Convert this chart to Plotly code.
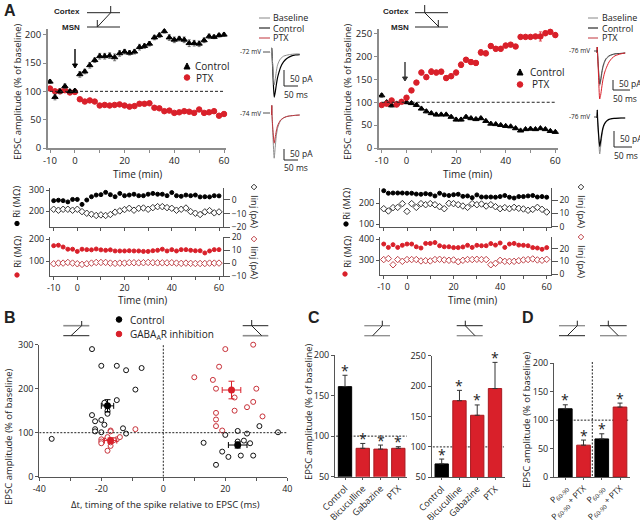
import numpy as np
import plotly.graph_objects as go

W, H = 640, 520
FONT = "Open Sans"
INK = "#222222"
GREY = "#8c8c8c"
RED = "#d9202a"
DRED = "#a81a20"

# ---------- data ----------
time_min = [-10,-8,-6,-4,-2,0,2,4,6,8,10,12,14,16,18,20,22,24,26,28,30,32,34,36,38,40,42,44,46,48,50,52,54,56,58,60]

a1_control = [117,90,100,109,100,101,130,135,146,155,162,162,163,160,167,170,168,170,178,180,184,195,199,206,195,191,193,191,185,185,184,190,197,196,199,200]
a1_control_err = [3,5,4,4,3,3,5,4,5,4,5,5,5,6,5,4,4,4,5,4,4,4,4,3,5,5,4,5,6,5,5,4,4,3,3,3]
a1_ptx = [105,100,100,102,98,99,86,82,84,82,75,76,75,76,77,75,73,74,78,78,79,71,70,65,66,62,63,65,64,62,68,62,63,65,57,60]
a1_ptx_err = [3,3,3,3,3,3,3,3,3,3,3,3,3,2,2,3,3,3,2,2,2,3,3,2,2,2,2,2,2,2,2,2,2,2,2,2]

a2_control = [115,100,93,97,101,100,98,94,86,80,76,73,73,73,68,62,62,68,65,63,65,59,53,52,50,48,47,43,38,41,42,41,43,41,37,35]
a2_control_err = [4,3,3,3,3,3,3,3,3,3,3,3,2,2,2,3,3,3,3,3,3,2,2,2,2,2,2,2,2,2,2,2,2,2,2,2]
a2_ptx = [94,97,104,95,101,110,126,143,165,155,167,165,167,153,157,165,182,193,188,186,209,207,223,217,217,224,226,222,243,243,243,244,244,251,254,247]
a2_ptx_err = [3,3,3,3,3,4,4,4,5,5,6,5,5,5,5,5,6,5,5,5,6,5,5,5,5,5,4,4,4,4,4,4,10,5,5,5]

a1_ri_black = [250,252,250,244,256,256,232,253,269,277,279,290,279,269,285,274,277,281,274,274,281,285,281,281,274,289,274,271,277,274,277,268,269,268,274,273]
a1_inj_black = [-6.9,-7.6,-6.9,-6.9,-7.6,-6.9,-8.6,-9.8,-10.5,-11.4,-11,-11.4,-10.7,-9,-8.1,-7.1,-6.2,-7.6,-6.2,-6,-6.9,-5.7,-5,-5,-5.7,-6.2,-7.6,-6.9,-6,-8.6,-9.8,-10.7,-8.8,-7.9,-9.5,-8.8]
a1_ri_red = [171,173,165,155,155,145,155,153,152,156,152,150,152,147,147,147,148,147,147,145,145,148,150,155,147,153,147,153,153,150,148,148,138,147,153,153]
a1_inj_red = [-0.5,0,0,0.5,0,-0.5,-1,-0.5,0,0.5,0.5,0.5,0,-0.2,0,0,0.3,0.3,0.2,0.3,0.5,0.3,0.2,0.2,0.2,0.3,0,-0.2,0,-0.2,-0.3,-0.3,-0.3,0,0,0]

a2_ri_black = [260,248,249,249,249,248,248,244,243,246,243,235,248,240,237,241,243,233,235,227,240,230,230,230,229,232,237,229,225,232,232,235,237,230,232,229]
a2_inj_black = [13.5,11.8,14.3,14.5,17.3,11.5,17.3,14.5,17.3,16.5,17.3,16.5,15,13.5,17.5,17.3,16.5,15.5,14.5,17.3,16.5,17,15.5,16.5,15,13.5,14.3,13.5,14.5,13.8,13.3,12.3,13,14.5,13,11]
a2_ri_red = [376,360,373,360,370,376,376,363,357,379,379,383,368,363,363,359,359,362,370,360,370,368,368,378,371,381,360,376,379,371,370,368,359,357,351,359]
a2_inj_red = [11.4,12.2,7.3,11.4,10,11.4,11.4,11.4,10.3,10.5,10.3,11.4,11.6,11.1,10.8,11.1,9.7,10.8,11.4,11.4,11.6,11.4,11.4,7.3,8.4,10.8,10,10,10,10.5,11.1,11.4,11.9,11.1,10.8,11.6]

# EPSC sample traces (ms, pA)
epsc_t = [0,1,2,5,9,12,16,20,25,30,40,50,60,80,94]
i1_baseline = [0,15,-5,-55,-100,-85,-58,-38,-26,-18,-10,-7,-5,-3,-3]
i1_control = [0,15,-5,-70,-138,-125,-100,-78,-60,-45,-28,-18,-12,-6,-5]
i2_baseline = [0,30,-5,-70,-135,-105,-65,-42,-28,-18,-9,-5,-3,-1,0]
i2_ptx = [0,30,-5,-50,-88,-72,-50,-34,-24,-16,-9,-5,-3,-1,0]
i3_baseline = [0,30,-5,-85,-162,-145,-105,-72,-48,-32,-16,-9,-5,-2,0]
i3_control = [0,30,-5,-80,-155,-135,-95,-65,-42,-28,-14,-8,-4,-2,0]
i3_ptx = [0,30,-5,-110,-230,-212,-170,-132,-100,-78,-45,-26,-14,-4,0]
i4_baseline = [0,40,-5,-90,-180,-145,-92,-56,-33,-20,-8,-3,-2,0,0]
i4_control = [0,40,-5,-75,-143,-118,-78,-48,-29,-18,-7,-3,-2,0,0]

b_ctrl_x = [-36,-23,-20,-15,-12,-7,-9,-15,-19,-18,-18,-23,-22,-20,-19,-13,-22,-22,-20,-12,13,20,24,27,31,37,24,26,28,19,21,25,29,17]
b_ctrl_y = [86,290,252,252,242,247,198,174,168,150,143,140,126,129,118,110,108,103,101,98,77,95,104,98,115,101,80,82,76,57,45,48,48,27]
b_gaba_x = [-9,-17,-17,-20,-20,-20,-18,-15,-14,-17,-18,-17,-16,10,20,29,18,16,17,30,23,29,27,23,17,32,17,17,19]
b_gaba_y = [108,105,103,85,80,76,90,85,90,70,59,78,83,226,290,300,250,220,200,200,180,170,158,150,145,137,130,115,105]
b_mean_ctrl_x = [-18,24]
b_mean_ctrl_y = [161,72]
b_mean_ctrl_ex = [2,3]
b_mean_ctrl_ey = [14,7]
b_mean_gaba_x = [-17,22]
b_mean_gaba_y = [82,197]
b_mean_gaba_ex = [2,3]
b_mean_gaba_ey = [6,20]

c_labels = ["Control","Bicuculline","Gabazine","PTX"]
c1_vals = [161,85,84,85]
c1_err = [14,6,5,2]
c2_vals = [72,176,152,196]
c2_err = [8,17,17,43]
d_labels = ["P<sub>60-90</sub>","P<sub>60-90</sub> + PTX","P<sub>60-90</sub>","P<sub>60-90</sub> + PTX"]
d_vals = [120,56,67,123]
d_err = [7,9,9,7]

# ---------- helpers ----------
fig = go.Figure()
layout = {}
shapes = []
annots = []
_n = [0]

def rng(cal, p0, p1):
    (pa, va), (pb, vb) = cal
    f = lambda p: va + (p - pa) * (vb - va) / (pb - pa)
    return [f(p0), f(p1)]

TICKF = dict(family=FONT, size=9, color=INK)

def add_axes(box, xcal, ycal, xopts=None, yopts=None):
    L, R, T, B = box
    _n[0] += 1
    n = _n[0]
    base = dict(showgrid=False, zeroline=False, showline=True, linecolor="#555555", linewidth=1,
                ticks="outside", ticklen=3, tickwidth=1, tickcolor="#555555", tickfont=TICKF)
    xa = dict(base, domain=[L/W, R/W], range=rng(xcal, L, R), anchor=f"y{n}")
    xa.update(xopts or {})
    ya = dict(base, domain=[1-B/H, 1-T/H], range=rng(ycal, B, T), anchor=f"x{n}")
    ya.update(yopts or {})
    layout[f"xaxis{n}"] = xa
    layout[f"yaxis{n}"] = ya
    return n

def add_right(n, ycal, yopts=None):
    _n[0] += 1
    m = _n[0]
    d = layout[f"yaxis{n}"]["domain"]
    T, B = (1-d[1])*H, (1-d[0])*H
    ya = dict(showgrid=False, zeroline=False, showline=True, linecolor="#555555", linewidth=1,
              ticks="outside", ticklen=6, tickwidth=1, tickcolor="#555555", tickfont=dict(TICKF, size=8.5),
              domain=d, range=rng(ycal, B, T), anchor=f"x{n}", overlaying=f"y{n}", side="right")
    ya.update(yopts or {})
    layout[f"yaxis{m}"] = ya
    return m

def hidden(box, xcal, ycal):
    o = dict(visible=False)
    return add_axes(box, xcal, ycal, o, o)

def px(x): return x / W
def py(y): return 1 - y / H

def line(x0, y0, x1, y1, color=INK, w=1, dash=None):
    shapes.append(dict(type="line", xref="paper", yref="paper", x0=px(x0), y0=py(y0), x1=px(x1), y1=py(y1),
                       line=dict(color=color, width=w, dash=dash)))

def dot(cx, cy, r, fill, edge=None):
    shapes.append(dict(type="circle", xref="paper", yref="paper", x0=px(cx-r), x1=px(cx+r), y0=py(cy+r), y1=py(cy-r),
                       fillcolor=fill, line=dict(color=edge or fill, width=1)))

def poly(pts, fill, edge, w=1):
    p = "M " + " L ".join(f"{px(a):.5f},{py(b):.5f}" for a, b in pts) + " Z"
    shapes.append(dict(type="path", xref="paper", yref="paper", path=p, fillcolor=fill, line=dict(color=edge, width=w)))

def tri(cx, cy, r):
    poly([(cx-r, cy+r), (cx+r, cy+r), (cx, cy-r)], "black", "black")

def diamond(cx, cy, r, edge):
    poly([(cx-r, cy), (cx, cy-r), (cx+r, cy), (cx, cy+r)], "white", edge)

def txt(x, y, s, size=10, angle=0, anchor="center", bold=False, family=FONT, color=INK):
    annots.append(dict(xref="paper", yref="paper", x=px(x), y=py(y), text=f"<b>{s}</b>" if bold else s,
                       showarrow=False, xanchor=anchor, yanchor="middle", textangle=angle,
                       font=dict(family=family, size=size, color=color)))

def arrow(x, y0, y1, color="black"):
    line(x, y0, x, y1 - 3, color, 1.4)
    poly([(x-2.5, y1-4), (x+2.5, y1-4), (x, y1)], color, color)

def schem(x0, x1, yt, yb, xv, xe, vtop, topc=INK, botc=INK, topw=1, botw=1, vbot=None):
    line(x0, yt, x1, yt, topc, topw)
    line(x0, yb, x1, yb, botc, botw)
    line(xv, vtop, xv, yt, INK, 1)
    line(xv, yt, xe, yb, INK, 1)
    if vbot is not None:
        line(xe, vbot, xe, yb, INK, 1)

def scat(n, x, y, sym, color, size=6, yax=None, err=None, errc=None, open_=False, name=None):
    m = dict(symbol=sym, size=size, color="white" if open_ else color, line=dict(color=color, width=1))
    t = go.Scatter(x=x, y=y, mode="markers", marker=m, xaxis=f"x{n}", yaxis=f"y{yax or n}", showlegend=False,
                   cliponaxis=False, name=name)
    if err is not None:
        t.error_y = dict(type="data", array=err, color=errc or color, thickness=0.8, width=1.5)
    fig.add_trace(t)

def tr(n, x, y, color, w=1):
    fig.add_trace(go.Scatter(x=x, y=y, mode="lines", line=dict(color=color, width=w, shape="spline", smoothing=0.6),
                             xaxis=f"x{n}", yaxis=f"y{n}", showlegend=False, cliponaxis=True))

# ---------- panel A top ----------
tick_t = [-10,0,10,20,30,40,50,60]
lab_t = ["-10","0","","20","","40","","60"]
spine = dict(linecolor=GREY, linewidth=2, tickcolor=GREY, tickfont=dict(TICKF, size=9.5))

n = add_axes((48,226,29,148), ((50,-10),(224,60)), ((148,0),(34.7,200)),
             dict(tickvals=tick_t, ticktext=lab_t, **spine),
             dict(tickvals=[0,50,100,150,200], **spine))
fig.add_shape(type="line", xref=f"x{n}", yref=f"y{n}", x0=-10, x1=60, y0=100, y1=100, line=dict(color=INK, width=1, dash="3px,2px"))
scat(n, time_min, a1_ptx, "circle", RED, 5.5, err=a1_ptx_err)
scat(n, time_min, a1_control, "triangle-up", "black", 5.5, err=a1_control_err, errc="#555555")

n = add_axes((379,558,29,148), ((381.7,-10),(555.3,60)), ((148,0),(33.7,250)),
             dict(tickvals=tick_t, ticktext=lab_t, **spine),
             dict(tickvals=[0,50,100,150,200,250], **spine))
fig.add_shape(type="line", xref=f"x{n}", yref=f"y{n}", x0=-10, x1=60, y0=100, y1=100, line=dict(color=INK, width=1, dash="3px,2px"))
scat(n, time_min, a2_control, "triangle-up", "black", 5.5, err=a2_control_err, errc="#555555")
scat(n, time_min, a2_ptx, "circle", RED, 5.5, err=a2_ptx_err)

# ---------- panel A sub ----------
xc1 = ((77.3,0),(219,60))
xc2 = ((407,0),(546.7,60))
none_lab = dict(tickvals=tick_t, showticklabels=False)

n = add_axes((50,223,188,227.3), xc1, ((190.3,300),(211,200)), none_lab, dict(tickvals=[200,300]))
m = add_right(n, ((186,10),(227.3,-20)), dict(tickvals=[-20,-10,0,10]))
scat(n, time_min, a1_inj_black, "diamond", "#333333", 5, yax=m, open_=True)
scat(n, time_min, a1_ri_black, "circle", "black", 4)

n = add_axes((50,223,237.3,276.3), xc1, ((239.3,200),(261.3,100)), dict(tickvals=tick_t, ticktext=lab_t), dict(tickvals=[100,200]))
m = add_right(n, ((237.3,20),(276,-10)), dict(tickvals=[-10,0,10,20]))
scat(n, time_min, a1_inj_red, "diamond", "#c0444a", 5, yax=m, open_=True)
scat(n, time_min, a1_ri_red, "circle", RED, 4)

n = add_axes((380,550.7,187.7,226.7), xc2, ((203.3,200),(224.3,100)), none_lab, dict(tickvals=[100,200]))
m = add_right(n, ((186.7,30),(226.7,0)), dict(tickvals=[0,10,20,30]))
scat(n, time_min, a2_inj_black, "diamond", "#333333", 5, yax=m, open_=True)
scat(n, time_min, a2_ri_black, "circle", "black", 4)

n = add_axes((380,550.7,237.3,275), xc2, ((239,400),(260,300)), dict(tickvals=tick_t, ticktext=lab_t), dict(tickvals=[300,400]))
m = add_right(n, ((236,30),(274,0)), dict(tickvals=[0,10,20,30]))
scat(n, time_min, a2_inj_red, "diamond", "#c0444a", 5, yax=m, open_=True)
scat(n, time_min, a2_ri_red, "circle", RED, 4)

# ---------- EPSC insets ----------
xs = 15/50; ys = 16/50
n = hidden((270,302,45,105), ((271.5,0),(271.5+50*xs,50)), ((53,0),(53+50*ys,-50)))
tr(n, epsc_t, i1_control, "black", 1.2); tr(n, epsc_t, i1_baseline, GREY, 1)
n = hidden((270,302,100,165), ((271.5,0),(271.5+50*xs,50)), ((115,0),(115+50*ys,-50)))
tr(n, epsc_t, i2_baseline, GREY, 1); tr(n, epsc_t, i2_ptx, "#c0343c", 1)
ys2 = 10/50
n = hidden((595,628,45,105), ((597,0),(597+50*xs,50)), ((53,0),(53+50*ys2,-50)))
tr(n, epsc_t, i3_baseline, GREY, 1); tr(n, epsc_t, i3_control, "#333333", 0.8); tr(n, epsc_t, i3_ptx, RED, 1)
n = hidden((595,628,105,160), ((597,0),(597+50*xs,50)), ((118,0),(118+50*ys2,-50)))
tr(n, epsc_t, i4_baseline, GREY, 1); tr(n, epsc_t, i4_control, "black", 1.2)

# ---------- panel B ----------
n = add_axes((39.3,287.3,344.7,476.7), ((39.3,-40),(287.3,40)), ((476.7,0),(344.7,300)),
             dict(tickvals=[-40,-30,-20,-10,0,10,20,30,40], ticktext=["-40","","-20","","0","","20","","40"]),
             dict(tickvals=[0,100,200,300], ticktext=["0","100","200","300"]))
for a in [dict(x0=-40,x1=40,y0=100,y1=100), dict(x0=0,x1=0,y0=0,y1=300)]:
    fig.add_shape(type="line", xref=f"x{n}", yref=f"y{n}", line=dict(color=INK, width=1, dash="2px,1.5px"), **a)
scat(n, b_ctrl_x, b_ctrl_y, "circle", "#111111", 5, open_=True)
scat(n, b_gaba_x, b_gaba_y, "circle", "#c8323a", 5, open_=True)
for xs_, ys_, ex, ey, col in [(b_mean_ctrl_x,b_mean_ctrl_y,b_mean_ctrl_ex,b_mean_ctrl_ey,"black"),
                              (b_mean_gaba_x,b_mean_gaba_y,b_mean_gaba_ex,b_mean_gaba_ey,RED)]:
    fig.add_trace(go.Scatter(x=xs_, y=ys_, mode="markers", marker=dict(color=col, size=7), showlegend=False,
                             error_x=dict(type="data", array=ex, color=col, thickness=1, width=3),
                             error_y=dict(type="data", array=ey, color=col, thickness=1, width=3),
                             xaxis=f"x{n}", yaxis=f"y{n}"))

# ---------- panels C, D ----------
def bars(box, xcal, ycal, labels, vals, errs, cols, ytv, angle=-45, lsize=9):
    n = add_axes(box, xcal, ycal,
                 dict(tickvals=list(range(len(labels))), ticktext=labels, tickangle=angle,
                      tickfont=dict(family=FONT, size=lsize, color=INK), ticklen=2),
                 dict(tickvals=ytv))
    idx = list(range(len(labels)))
    fig.add_trace(go.Bar(x=idx, y=vals, width=0.75, marker=dict(color=cols, line=dict(color=[("black" if c=="black" else DRED) for c in cols], width=1)),
                         error_y=dict(type="data", array=errs, arrayminus=[0]*len(errs), symmetric=False, color="#333333", thickness=1, width=2.5),
                         showlegend=False, xaxis=f"x{n}", yaxis=f"y{n}"))
    for i, (v, e) in enumerate(zip(vals, errs)):
        annots.append(dict(xref=f"x{n}", yref=f"y{n}", x=i, y=v+e, text="*", showarrow=False, yanchor="middle",
                           yshift=5, font=dict(family=FONT, size=14, color=INK)))
    return n

n = bars((335,406.7,355,476.7), ((345,0),(398.3,3)), ((476.7,50),(355,200)), c_labels, c1_vals, c1_err,
         ["black",RED,RED,RED], [50,100,150,200])
fig.add_shape(type="line", xref=f"x{n}", yref=f"y{n}", x0=-0.5, x1=3.5, y0=100, y1=100, layer="below", line=dict(color=INK, width=1, dash="2px,1.5px"))
n = bars((431.7,505,355.7,477.3), ((441.7,0),(495,3)), ((477.3,50),(355.7,250)), c_labels, c2_vals, c2_err,
         ["black",RED,RED,RED], [50,100,150,200,250])
fig.add_shape(type="line", xref=f"x{n}", yref=f"y{n}", x0=-0.5, x1=3.5, y0=100, y1=100, layer="below", line=dict(color=INK, width=1, dash="2px,1.5px"))
n = bars((554,630,363.3,477), ((565.3,0),(620,3)), ((477,0),(363.3,200)), d_labels, d_vals, d_err,
         ["black",RED,"black",RED], [0,50,100,150,200], lsize=8.5)
fig.add_shape(type="line", xref=f"x{n}", yref=f"y{n}", x0=-0.5, x1=3.5, y0=100, y1=100, layer="below", line=dict(color=INK, width=1, dash="2px,1.5px"))
line(592.3, 362, 592.3, 477, INK, 1, "2px,1.5px")

# ---------- decorations ----------
AF = "Liberation Sans"
txt(2, 10, "A", 16, anchor="left", bold=True, family=AF)
txt(2, 317, "B", 16, anchor="left", bold=True, family=AF)
txt(306, 317, "C", 16, anchor="left", bold=True, family=AF)
txt(520, 317, "D", 16, anchor="left", bold=True, family=AF)

TS = 9.5
txt(17, 92, "EPSC amplitude (% of baseline)", TS, -90)
txt(347, 92, "EPSC amplitude (% of baseline)", TS, -90)
txt(137, 174, "Time (min)", TS+0.5)
txt(467, 174, "Time (min)", TS+0.5)
txt(142, 300, "Time (min)", TS+0.5)
txt(472, 300, "Time (min)", TS+0.5)
txt(8, 437, "EPSC amplitude (% of baseline)", TS, -90)
txt(165, 504, "Δt, timing of the spike relative to EPSC (ms)", TS)
txt(308, 412, "EPSC amplitude (% of baseline)", TS, -90)
txt(526, 420, "EPSC amplitude (% of baseline)", TS, -90)

# Ri / Iinj labels
txt(17, 202, "Ri (MΩ)", 9.5, -90); dot(17, 223.5, 2.2, "black")
txt(17, 252, "Ri (MΩ)", 9.5, -90); dot(17, 275, 2.2, RED)
txt(347, 204, "Ri (MΩ)", 9.5, -90); dot(346, 224, 2.2, "black")
txt(347, 252, "Ri (MΩ)", 9.5, -90); dot(345, 274, 2.2, RED)
txt(255, 211, "Iinj (pA)", 9.5, 90); diamond(254, 187, 2.8, "#333333")
txt(255, 262, "Iinj (pA)", 9.5, 90); diamond(254, 239, 2.8, "#c0444a")
txt(582, 211, "Iinj (pA)", 9.5, 90); diamond(581, 187, 2.8, "#333333")
txt(582, 261, "Iinj (pA)", 9.5, 90); diamond(581, 237, 2.8, "#c0444a")

# legends
tri(187, 66, 3); txt(193, 66, "Control", 10, anchor="left")
dot(187, 77.5, 2.8, RED); txt(194, 78, "PTX", 10, anchor="left")
tri(520, 72, 3); txt(528, 72, "Control", 10, anchor="left")
dot(520, 84.5, 2.8, RED); txt(530, 84.5, "PTX", 10, anchor="left")
dot(119, 319.5, 2.8, "black"); txt(128, 319.5, "Control", 10, anchor="left")
dot(119, 334, 2.8, RED); txt(128, 334, "GABA<sub>A</sub>R inhibition", 10, anchor="left")

for x0, x1, xt, rows in [(259,270,271,("#888888","black","#c0343c")), (588,598,600,("#888888","black","#c0343c"))]:
    for y, c, s in zip((18,28,38), rows, ("Baseline","Control","PTX")):
        line(x0, y, x1, y, c, 1)
        txt(xt, y, s, 9, anchor="left")

# voltage labels
for x, y, s in [(250,52,"-72 mV"), (250,113,"-74 mV"), (579,51,"-76 mV"), (579,117,"-76 mV")]:
    txt(x, y, s, 6.5)
line(263,52,270,52,INK,0.8); line(263,113,270,113,INK,0.8)
line(594,51,598,51,INK,0.8); line(594,117,598,117,INK,0.8)

# scale bars
def scale(xv, ytop, ybot, xend, xt, yt, ymt):
    line(xv, ytop, xv, ybot, INK, 1); line(xv, ybot, xend, ybot, INK, 1)
    txt(xt, yt, "50 pA", 8.5, anchor="left"); txt(xt-6, ymt, "50 ms", 8.5, anchor="left")
scale(284, 70, 86, 298, 288, 78, 94)
scale(284, 149, 160, 298, 288, 153, 168)
scale(613, 80, 90, 630, 617, 84, 98)
scale(614, 131, 147, 632, 618, 139, 155)

# circuit schematics
txt(82, 11, "Cortex", 8, anchor="right", bold=True, family=AF)
txt(82, 27, "MSN", 8, anchor="right", bold=True, family=AF)
schem(87,120,12.7,27,110.7,97.3,6,INK,INK,1,1,vbot=None); line(97.3,20,97.3,27,INK,1)
txt(410.5, 11, "Cortex", 8, anchor="right", bold=True, family=AF)
txt(410.5, 27, "MSN", 8, anchor="right", bold=True, family=AF)
schem(415,448,12.7,27,424.7,439,5,INK,INK,1,1); line(438.3,20,438.3,27,INK,1)

schem(63.3,89.3,325.7,335.7,81.7,71,321,GREY,INK,1.6,1)
schem(242.7,268.3,325.7,335.7,251.7,261.7,320,INK,GREY,1,1.6)
schem(364.3,390,325.7,335.7,382.3,372.7,320.7,GREY,GREY,1.3,1.3)
schem(456.7,482.7,325.7,335.7,465.3,475,320.7,INK,GREY,1,1.3)
schem(559,585,325.7,335.7,577.3,567.3,320.7,GREY,INK,1.3,1)
schem(600,626.7,325.7,335.7,608.3,618.3,320.7,INK,GREY,1,1.3)

# stimulus arrows
arrow(75, 49, 68, "black")
arrow(405, 62, 81, "#333333")

fig.update_layout(width=W, height=H, margin=dict(l=0, r=0, t=0, b=0, autoexpand=False), paper_bgcolor="white", plot_bgcolor="rgba(0,0,0,0)",
                  font=dict(family=FONT, color=INK), barmode="overlay", showlegend=False, shapes=list(fig.layout.shapes) + shapes, annotations=annots, **layout)

fig.write_html("out.html", config=dict(displayModeBar=False), post_script="document.body.style.margin='0';document.body.style.overflow='hidden';")
